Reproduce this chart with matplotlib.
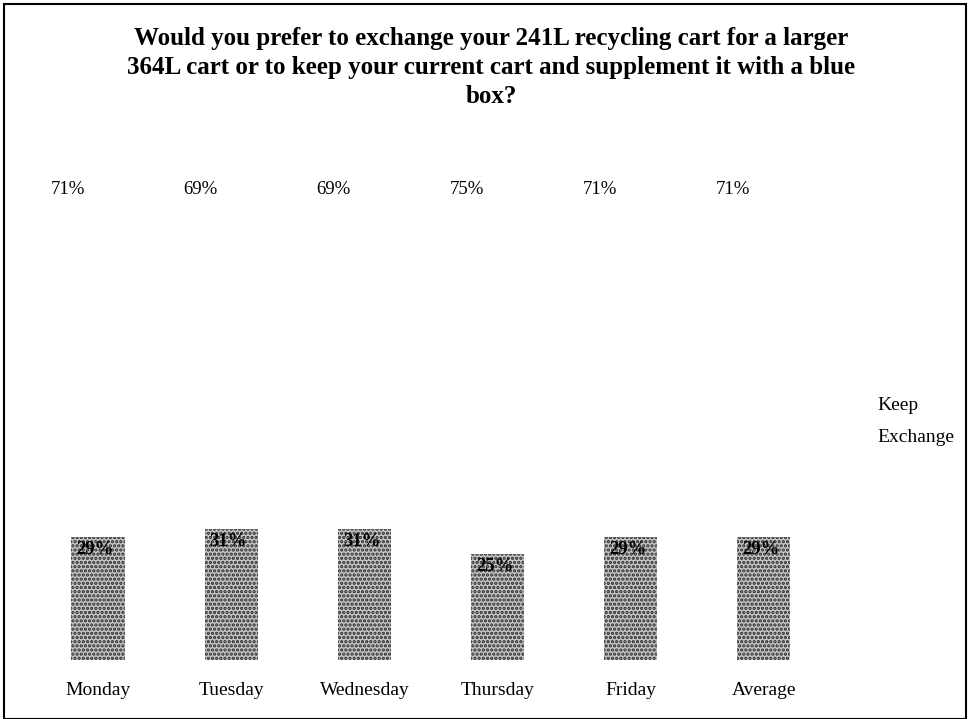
import matplotlib.pyplot as plt
from matplotlib.patches import Rectangle

days = ["Monday", "Tuesday", "Wednesday", "Thursday", "Friday", "Average"]
exchange = [29, 31, 31, 25, 29, 29]
keep = [71, 69, 69, 75, 71, 71]

plt.rcParams['font.family'] = ['Liberation Serif', 'DejaVu Serif']
plt.rcParams['hatch.linewidth'] = 1.6

fig = plt.figure(figsize=(9.69, 7.19), dpi=100)
ax = fig.add_axes([0.0325, 0.082, 0.8245, 0.59])

x = range(len(days))
ex_bars = ax.bar(x, exchange, width=0.4, color="#c4c4c4", edgecolor="#2a2a2a",
                 hatch="....", linewidth=0, label="Exchange")
keep_bars = ax.bar(x, keep, width=0.4, bottom=exchange, color="white",
                   linewidth=0, label="Keep")

# labels for exchange, inside top of bar
for i, v in enumerate(exchange):
    ax.annotate(f"{v}%", (i, v), xytext=(-2, -9), textcoords="offset points",
                ha="center", va="center", fontsize=13.5, fontweight="bold")

# labels for keep, placed above the plot
for i, v in enumerate(keep):
    ax.annotate(f"{v}%", (i, 111), xytext=(-22, 0), textcoords="offset points",
                ha="center", va="center", fontsize=13.5, annotation_clip=False)

ax.set_xlim(-0.5, 5.5)
ax.set_ylim(0, 100)
ax.set_xticks(list(x), days, fontsize=14)
ax.tick_params(axis="x", length=0, pad=16)
ax.set_yticks([])
for s in ax.spines.values():
    s.set_visible(False)

fig.suptitle("Would you prefer to exchange your 241L recycling cart for a larger\n"
             "364L cart or to keep your current cart and supplement it with a blue\n"
             "box?", x=0.507, y=0.962, fontsize=18, fontweight="bold", linespacing=1.32)

ax.legend(handles=[keep_bars, ex_bars], loc="center left", bbox_to_anchor=(0.883, 0.414),
          bbox_transform=fig.transFigure, frameon=False, handlelength=0,
          handletextpad=0.2, fontsize=14, labelspacing=0.75)

fig.patches.append(Rectangle((0.004, 0.0), 0.993, 0.995, transform=fig.transFigure,
                             fill=False, edgecolor="black", linewidth=1.5))

plt.savefig("out.png", dpi=100)
